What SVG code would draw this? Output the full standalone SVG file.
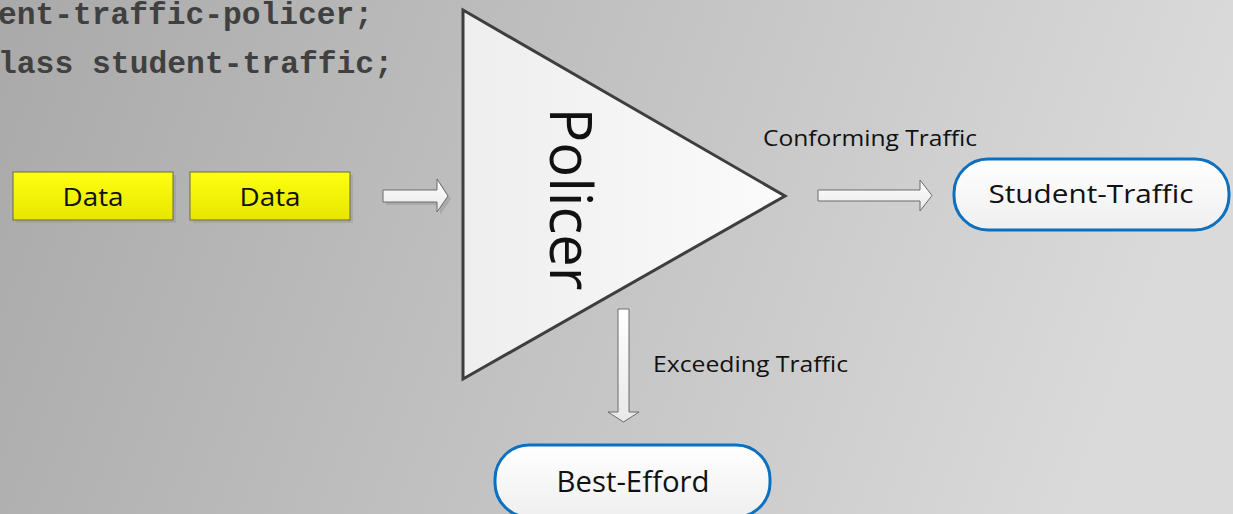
<svg xmlns="http://www.w3.org/2000/svg" width="1233" height="514" viewBox="0 0 1233 514">
<defs>
<linearGradient id="bg" x1="0" y1="0" x2="1" y2="0.15">
<stop offset="0" stop-color="#a9a9a9"/>
<stop offset="0.45" stop-color="#bfbfbf"/>
<stop offset="1" stop-color="#dadada"/>
</linearGradient>
<linearGradient id="yel" x1="0" y1="0" x2="0" y2="1">
<stop offset="0" stop-color="#ffff10"/>
<stop offset="1" stop-color="#e6e600"/>
</linearGradient>
<linearGradient id="pill" x1="0" y1="0" x2="0" y2="1">
<stop offset="0" stop-color="#ffffff"/>
<stop offset="1" stop-color="#efefef"/>
</linearGradient>
<linearGradient id="tri" x1="0" y1="0" x2="1" y2="0">
<stop offset="0" stop-color="#eeeeee"/>
<stop offset="1" stop-color="#fbfbfb"/>
</linearGradient>
<linearGradient id="arr" x1="0" y1="0" x2="0" y2="1">
<stop offset="0" stop-color="#ffffff"/>
<stop offset="1" stop-color="#e8e8e8"/>
</linearGradient>
</defs>
<style>
.code{font-family:"Liberation Mono","Courier New",monospace;font-weight:bold;font-size:31px;fill:#404040}
.lbl{font-family:"Open Sans","Noto Sans",sans-serif;fill:#111}
.data{fill:url(#yel);stroke:#6b6b45;stroke-width:1}
.shadow{fill:#9a9a9a;opacity:0.55}
.pill{fill:url(#pill);stroke:#0b70bf;stroke-width:3}
.arrow{fill:url(#arr);stroke:#6a6a6a;stroke-width:1}
</style>
<rect x="0" y="0" width="1233" height="514" fill="url(#bg)"/>

<g id="code">
<text class="code" x="-2" y="24" textLength="375" lengthAdjust="spacingAndGlyphs">ent-traffic-policer;</text>
<text class="code" x="-2" y="73" textLength="395" lengthAdjust="spacingAndGlyphs">lass student-traffic;</text>
</g>

<g id="data1">
<rect class="shadow" x="16" y="175" width="160" height="48"/>
<rect class="data" x="13" y="172" width="160" height="48"/>
<text class="lbl" x="93" y="206" font-size="25" text-anchor="middle" textLength="61" lengthAdjust="spacingAndGlyphs">Data</text>
</g>
<g id="data2">
<rect class="shadow" x="193" y="175" width="160" height="48"/>
<rect class="data" x="190" y="172" width="160" height="48"/>
<text class="lbl" x="270" y="206" font-size="25" text-anchor="middle" textLength="61" lengthAdjust="spacingAndGlyphs">Data</text>
</g>

<g id="policer">
<polygon points="463,10 785,196 463,379" fill="url(#tri)" stroke="#3e3e3e" stroke-width="3" stroke-linejoin="miter"/>
<text class="lbl" transform="translate(550,199) rotate(90)" x="0" y="0" font-size="58" text-anchor="middle" textLength="183" lengthAdjust="spacingAndGlyphs">Policer</text>
</g>

<g id="student-traffic">
<rect class="pill" x="954" y="159" width="275" height="71" rx="34" ry="34"/>
<text class="lbl" x="1091" y="203" font-size="26" text-anchor="middle" textLength="205" lengthAdjust="spacingAndGlyphs">Student-Traffic</text>
</g>

<g id="best-efford">
<rect class="pill" x="495" y="445" width="275" height="72" rx="34" ry="34"/>
<text class="lbl" x="633" y="492" font-size="29" text-anchor="middle" textLength="153" lengthAdjust="spacingAndGlyphs">Best-Efford</text>
</g>

<g id="connectors">
<path class="shadow" d="M386,193 H440 V182 L451,199 L440,215 V205 H386 Z" opacity="0.35"/>
<path class="arrow" d="M383,190 H437 V179 L448,196 L437,212 V202 H383 Z"/>
<path class="arrow" d="M818,190 H920 V180 L932,195.5 L920,211 V201 H818 Z"/>
<path class="arrow" d="M618,309 H629 V412 H639 L623.5,422 L608,412 H618 Z"/>
<text class="lbl" x="763" y="146" font-size="21" textLength="214" lengthAdjust="spacingAndGlyphs">Conforming Traffic</text>
<text class="lbl" x="653" y="372" font-size="21" textLength="195" lengthAdjust="spacingAndGlyphs">Exceeding Traffic</text>
</g>
</svg>
